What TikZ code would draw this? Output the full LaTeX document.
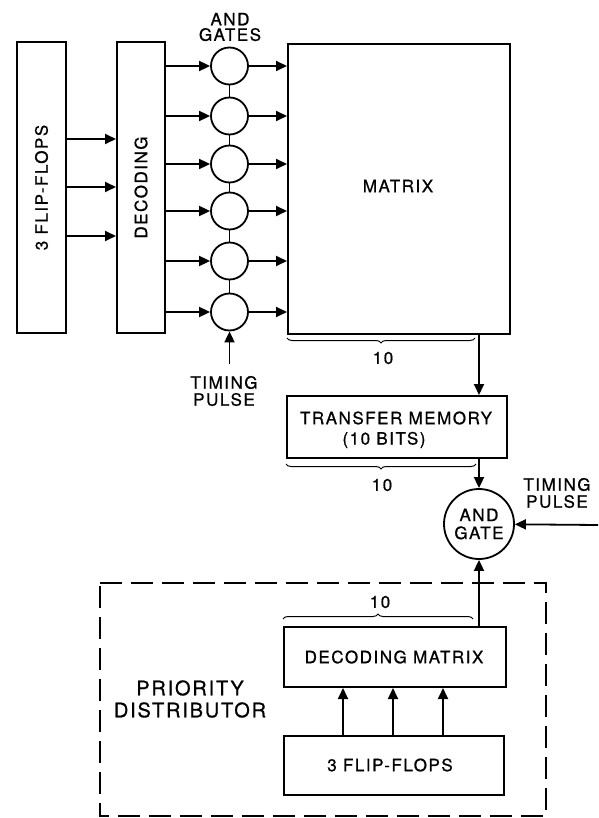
\documentclass[tikz,border=0pt]{standalone}
\usepackage{fontspec}
\setmainfont{TeX Gyre Heros}[LetterSpace=9,FakeBold=0.8]
\usetikzlibrary{arrows.meta,decorations.pathreplacing,calc}
\begin{document}
\begin{tikzpicture}[x=1pt,y=-1pt,
  blk/.style={draw,line width=2pt,inner sep=0pt,anchor=north west,align=center},
  gate/.style={draw,circle,line width=1.8pt,inner sep=0pt,minimum size=37pt,align=center},
  arr/.style={line width=1.8pt,-{Triangle[length=11pt,width=10pt]}},
  wire/.style={line width=1.8pt},
  lbl/.style={inner sep=0pt,align=center},
  brc/.style={decorate,decoration={brace,amplitude=5pt},line width=1pt},
  every node/.style={font=\fontsize{17}{17}\selectfont}]
\useasboundingbox (0,0) rectangle (598,818);

% top section
\node[blk,minimum width=49pt,minimum height=291pt] (ff1) at (16,41) {};
\node[lbl,rotate=90] (ff1t) at (ff1.center) {3 FLIP-FLOPS};
\node[blk,minimum width=48pt,minimum height=291pt] (dec) at (116,41) {};
\node[lbl,rotate=90] (dect) at (dec.center) {DECODING};
\node[blk,minimum width=222pt,minimum height=290pt] (matrix) at (287,43) {};
\node[lbl] (matt) at (398,186) {MATRIX};

\foreach \y/\n in {139/a,187/b,236/c}{
  \coordinate (ffy\n) at (0,\y);
  \draw[arr] (ff1.east|-ffy\n) -- (dec.west|-ffy\n);
}

\foreach \i/\y in {1/66,2/116,3/164,4/211,5/261,6/312}{
  \node[gate] (g\i) at (229.5,\y) {};
  \draw[arr] (dec.east|-g\i) -- (g\i);
  \draw[arr] (g\i) -- (matrix.west|-g\i);
}
\foreach \i/\j in {1/2,2/3,3/4,4/5,5/6}{
  \draw[wire] (g\i) -- (g\j);
}
\node[lbl,font=\fontsize{17}{15.5}\selectfont] (agl) at (230,27) {AND\\GATES};
\coordinate (tp1) at (229.5,364);
\draw[arr] (tp1) -- (g6);
\node[lbl] (tpl1) at (224,391) {TIMING\\PULSE};

\draw[brc] (475,338) -- (287,338);
\node[lbl] (n10a) at (383,358) {10};

% transfer memory
\node[blk,minimum width=220pt,minimum height=62pt] (tm) at (286,395) {};
\node[lbl] (tmt1) at (396,418) {TRANSFER MEMORY};
\node[lbl] (tmt2) at (384,440) {(10 BITS)};
\coordinate (mo) at (479,0);
\draw[arr] (matrix.south-|mo) -- (tm.north-|mo);
\draw[brc] (476,464) -- (286,464);
\node[lbl] (n10b) at (382,485) {10};

% and gate
\node[gate,minimum size=70pt,font=\fontsize{17}{18}\selectfont] (andg) at (479,524) {AND\\GATE};
\draw[arr] (tm.south-|andg) -- (andg);
\node[lbl] (tpl2) at (557,493) {TIMING\\PULSE};
\coordinate (tp2) at (598,525);
\draw[arr] (tp2) -- (andg);

% priority distributor
\draw[line width=1.8pt,dash pattern=on 22pt off 9pt] (100,583) -- (546,583) -- (546,816) -- (100,816) -- cycle;
\node[lbl,font=\fontsize{20}{22}\selectfont] (pd) at (190,699) {PRIORITY\\DISTRIBUTOR};
\node[blk,minimum width=222pt,minimum height=60pt] (dm) at (283,626) {};
\node[lbl] (dmt) at (394,657) {DECODING MATRIX};
\draw[brc] (283,619) -- (473,619);
\node[lbl] (n10c) at (380,602) {10};
\draw[arr] (dm.north-|andg) -- (andg);
\node[blk,minimum width=220pt,minimum height=59pt] (ff2) at (283,735) {};
\node[lbl] (ff2t) at (390,765) {3 FLIP-FLOPS};
\foreach \x/\n in {343/a,393/b,443/c}{
  \coordinate (fx\n) at (\x,0);
  \draw[arr] (ff2.north-|fx\n) -- (dm.south-|fx\n);
}
\end{tikzpicture}
\end{document}
